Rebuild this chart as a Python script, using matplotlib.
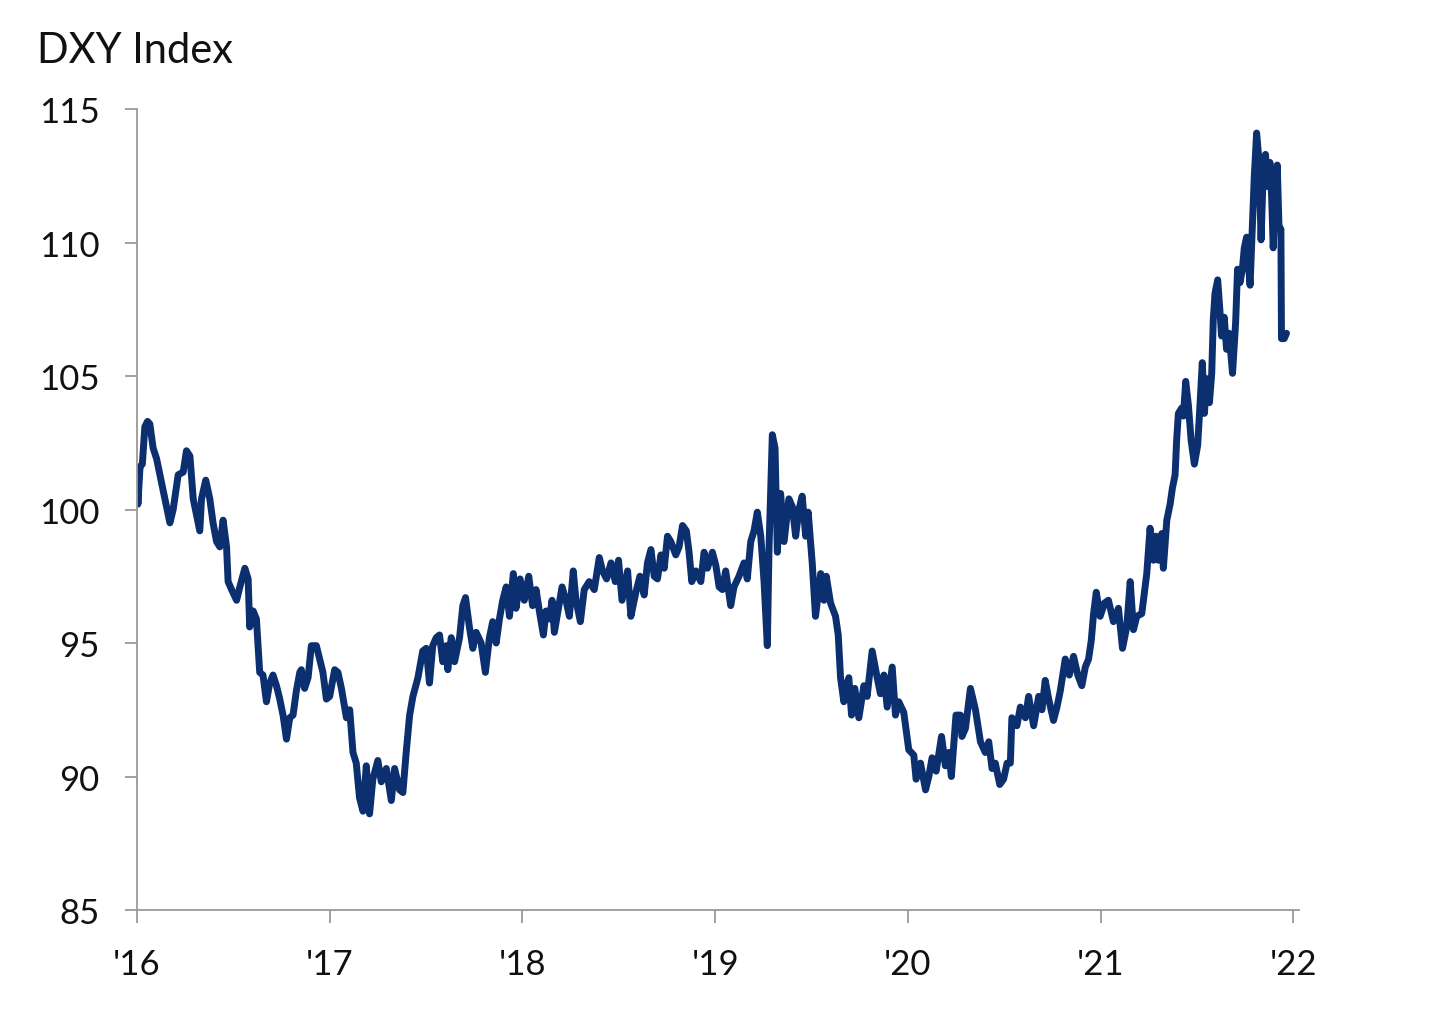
import matplotlib.pyplot as plt

plt.rcParams['font.family'] = ['Lato', 'DejaVu Sans']

# DXY index (decimal year, index level)
dates = [
    2016.000, 2016.005, 2016.016, 2016.028, 2016.041, 2016.055, 2016.067, 2016.084, 2016.102, 2016.119,
    2016.145, 2016.171, 2016.188, 2016.214, 2016.240, 2016.257, 2016.275, 2016.292, 2016.326, 2016.335,
    2016.357, 2016.378, 2016.395, 2016.413, 2016.430, 2016.447, 2016.465, 2016.473, 2016.491, 2016.517,
    2016.534, 2016.560, 2016.577, 2016.585, 2016.603, 2016.620, 2016.637, 2016.654, 2016.672, 2016.689,
    2016.706, 2016.724, 2016.741, 2016.758, 2016.776, 2016.793, 2016.810, 2016.827, 2016.845, 2016.853,
    2016.870, 2016.888, 2016.905, 2016.931, 2016.948, 2016.965, 2016.983, 2017.000, 2017.026, 2017.043,
    2017.061, 2017.087, 2017.104, 2017.121, 2017.138, 2017.155, 2017.173, 2017.190, 2017.207, 2017.224,
    2017.250, 2017.268, 2017.294, 2017.320, 2017.337, 2017.363, 2017.380, 2017.397, 2017.415, 2017.432,
    2017.458, 2017.483, 2017.501, 2017.518, 2017.535, 2017.553, 2017.570, 2017.587, 2017.605, 2017.613,
    2017.631, 2017.648, 2017.674, 2017.691, 2017.705, 2017.725, 2017.743, 2017.760, 2017.786, 2017.808,
    2017.829, 2017.846, 2017.864, 2017.881, 2017.898, 2017.916, 2017.933, 2017.953, 2017.967, 2017.988,
    2018.010, 2018.033, 2018.053, 2018.071, 2018.088, 2018.109, 2018.123, 2018.140, 2018.154, 2018.166,
    2018.192, 2018.206, 2018.226, 2018.244, 2018.264, 2018.278, 2018.301, 2018.321, 2018.347, 2018.373,
    2018.399, 2018.416, 2018.437, 2018.460, 2018.482, 2018.499, 2018.517, 2018.546, 2018.563, 2018.589,
    2018.610, 2018.632, 2018.649, 2018.667, 2018.684, 2018.701, 2018.719, 2018.736, 2018.753, 2018.770,
    2018.796, 2018.813, 2018.831, 2018.851, 2018.865, 2018.879, 2018.900, 2018.926, 2018.943, 2018.960,
    2018.986, 2019.004, 2019.021, 2019.038, 2019.055, 2019.081, 2019.098, 2019.124, 2019.150, 2019.167,
    2019.185, 2019.202, 2019.219, 2019.237, 2019.254, 2019.271, 2019.280, 2019.297, 2019.311, 2019.323,
    2019.340, 2019.358, 2019.383, 2019.401, 2019.418, 2019.435, 2019.452, 2019.470, 2019.483, 2019.504,
    2019.521, 2019.548, 2019.565, 2019.577, 2019.599, 2019.625, 2019.639, 2019.651, 2019.668, 2019.686,
    2019.694, 2019.708, 2019.725, 2019.746, 2019.772, 2019.789, 2019.815, 2019.841, 2019.858, 2019.876,
    2019.893, 2019.919, 2019.936, 2019.953, 2019.979, 2020.005, 2020.031, 2020.043, 2020.066, 2020.092,
    2020.109, 2020.126, 2020.147, 2020.175, 2020.195, 2020.212, 2020.226, 2020.250, 2020.273, 2020.281,
    2020.299, 2020.325, 2020.351, 2020.377, 2020.402, 2020.420, 2020.437, 2020.454, 2020.477, 2020.497,
    2020.515, 2020.532, 2020.540, 2020.566, 2020.584, 2020.610, 2020.627, 2020.653, 2020.679, 2020.696,
    2020.713, 2020.731, 2020.756, 2020.774, 2020.791, 2020.817, 2020.838, 2020.860, 2020.882, 2020.903,
    2020.921, 2020.938, 2020.952, 2020.964, 2020.978, 2020.998, 2021.021, 2021.041, 2021.067, 2021.093,
    2021.114, 2021.136, 2021.154, 2021.171, 2021.188, 2021.214, 2021.231, 2021.240, 2021.257, 2021.275,
    2021.287, 2021.301, 2021.318, 2021.326, 2021.344, 2021.361, 2021.373, 2021.387, 2021.395, 2021.404,
    2021.421, 2021.430, 2021.442, 2021.456, 2021.470, 2021.487, 2021.504, 2021.516, 2021.528, 2021.539,
    2021.551, 2021.565, 2021.577, 2021.585, 2021.594, 2021.608, 2021.620, 2021.628, 2021.642, 2021.654,
    2021.667, 2021.685, 2021.701, 2021.711, 2021.724, 2021.736, 2021.746, 2021.758, 2021.776, 2021.784,
    2021.798, 2021.810, 2021.822, 2021.833, 2021.845, 2021.856, 2021.867, 2021.879, 2021.888, 2021.896,
    2021.905, 2021.917, 2021.926, 2021.936, 2021.939, 2021.953, 2021.965,
]
dxy = [
    101.4, 100.2, 101.6, 101.7, 103.1, 103.3, 103.2, 102.3, 101.9, 101.3,
    100.4, 99.5, 100.0, 101.3, 101.4, 102.2, 102.0, 100.4, 99.2, 100.4,
    101.1, 100.4, 99.5, 98.8, 98.6, 99.6, 98.6, 97.3, 97.0, 96.6,
    97.1, 97.8, 97.4, 95.6, 96.2, 95.9, 93.9, 93.8, 92.8, 93.5,
    93.8, 93.4, 92.9, 92.3, 91.4, 92.2, 92.3, 93.2, 93.9, 94.0,
    93.3, 93.7, 94.9, 94.9, 94.4, 93.9, 92.9, 93.0, 94.0, 93.9,
    93.3, 92.2, 92.5, 90.9, 90.5, 89.2, 88.7, 90.4, 88.6, 89.9,
    90.6, 89.8, 90.3, 89.1, 90.3, 89.5, 89.4, 90.9, 92.3, 93.0,
    93.7, 94.7, 94.8, 93.5, 94.9, 95.2, 95.3, 94.3, 94.9, 94.0,
    95.2, 94.3, 95.2, 96.4, 96.7, 95.6, 94.8, 95.4, 95.0, 93.9,
    95.2, 95.8, 95.0, 95.9, 96.6, 97.1, 96.0, 97.6, 96.3, 97.4,
    96.6, 97.5, 96.4, 97.0, 96.2, 95.3, 96.2, 95.9, 96.6, 95.4,
    96.5, 97.1, 96.6, 96.0, 97.7, 96.6, 95.8, 97.0, 97.3, 97.0,
    98.2, 97.7, 97.4, 98.0, 97.3, 98.1, 96.6, 97.7, 96.0, 96.9,
    97.5, 96.8, 98.0, 98.5, 97.5, 97.4, 98.3, 97.8, 99.0, 98.8,
    98.3, 98.6, 99.4, 99.2, 98.4, 97.3, 97.7, 97.3, 98.4, 97.8,
    98.4, 97.9, 97.1, 97.0, 97.7, 96.4, 97.1, 97.5, 98.0, 97.4,
    98.8, 99.2, 99.9, 99.0, 97.3, 94.9, 98.6, 102.8, 102.3, 98.4,
    100.6, 98.8, 100.4, 100.1, 99.0, 100.0, 100.5, 99.0, 99.9, 98.0,
    96.0, 97.6, 96.6, 97.5, 96.5, 96.0, 95.3, 93.7, 92.8, 93.5,
    93.7, 92.3, 93.3, 92.2, 93.4, 93.0, 94.7, 93.7, 93.1, 93.8,
    92.6, 94.1, 92.3, 92.8, 92.4, 91.0, 90.8, 89.9, 90.5, 89.5,
    90.0, 90.7, 90.2, 91.5, 90.4, 90.9, 90.0, 92.3, 92.3, 91.5,
    91.8, 93.3, 92.5, 91.3, 90.9, 91.3, 90.3, 90.5, 89.7, 89.9,
    90.5, 90.5, 92.2, 91.9, 92.6, 92.2, 93.0, 91.9, 93.0, 92.5,
    93.6, 92.9, 92.1, 92.6, 93.2, 94.4, 93.8, 94.5, 93.8, 93.4,
    94.1, 94.4, 95.1, 96.1, 96.9, 96.0, 96.5, 96.6, 95.8, 96.3,
    94.8, 95.6, 97.3, 95.5, 96.0, 96.1, 97.1, 97.6, 99.3, 98.1,
    99.0, 98.1, 99.1, 97.8, 99.6, 100.2, 100.8, 101.3, 102.6, 103.6,
    103.8, 103.5, 104.8, 103.9, 102.6, 101.7, 102.4, 103.9, 105.5, 103.6,
    104.9, 104.0, 105.1, 107.1, 108.1, 108.6, 107.4, 106.5, 107.2, 106.0,
    106.6, 105.1, 107.0, 109.0, 108.5, 109.0, 109.8, 110.2, 108.4, 109.9,
    112.5, 114.1, 113.1, 110.1, 112.8, 113.3, 112.1, 113.0, 111.7, 109.8,
    111.3, 112.9, 110.6, 110.5, 106.4, 106.4, 106.6,
]

year_ticks = [2016, 2017, 2018, 2019, 2020, 2021, 2022]
year_labels = ["'16", "'17", "'18", "'19", "'20", "'21", "'22"]
y_ticks = [85, 90, 95, 100, 105, 110, 115]

fig = plt.figure(figsize=(14.4, 10.12), dpi=100)
ax = fig.add_axes([0.0951, 0.0998, 0.807, 0.7915])

ax.plot(dates, dxy, color='#0c2f70', linewidth=5.0, solid_joinstyle='round',
        solid_capstyle='round')

ax.set_xlim(2016, 2022.03)
ax.set_ylim(85, 115)
ax.set_xticks(year_ticks)
ax.set_xticklabels(year_labels)
ax.set_yticks(y_ticks)

for side in ['top', 'right']:
    ax.spines[side].set_visible(False)
for side in ['left', 'bottom']:
    ax.spines[side].set_color('#9a9a9a')
    ax.spines[side].set_linewidth(1.3)

ax.tick_params(axis='both', direction='out', length=9, width=1.3, color='#9a9a9a',
               labelsize=25, labelcolor='#111111')
ax.tick_params(axis='x', pad=18)
ax.tick_params(axis='y', pad=18)

fig.text(0.026, 0.938, 'DXY Index', fontsize=30, color='#111111', ha='left', va='baseline')

fig.savefig('out.png', dpi=100)
